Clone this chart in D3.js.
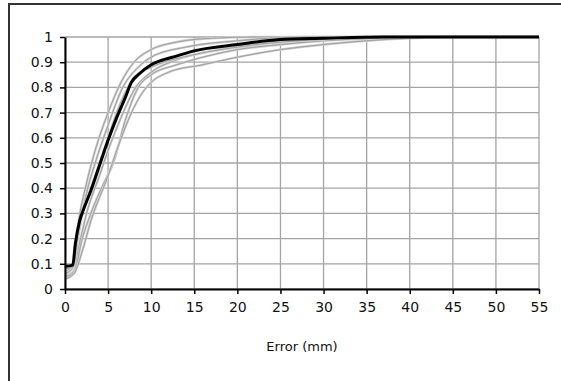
<!DOCTYPE html>
<html>
<head>
<meta charset="utf-8">
<script src="https://cdn.jsdelivr.net/npm/d3@7"></script>
<style>
  body { margin: 0; background: #fff; }
  svg text { font-family: "DejaVu Sans", Verdana, sans-serif; fill: #111; }
</style>
</head>
<body>
<div id="chart"></div>
<script>
// x ticks (Error, mm) and y ticks (cumulative fraction)
var xTicks = [0, 5, 10, 15, 20, 25, 30, 35, 40, 45, 50, 55];
var yTicks = [0, 0.1, 0.2, 0.3, 0.4, 0.5, 0.6, 0.7, 0.8, 0.9, 1];
var xLabel = "Error (mm)";

// mean curve (black)
var meanX = [0, 0.9, 1.2, 1.7, 2.2, 3, 4, 5, 6, 7, 7.7, 8.5, 10, 11, 13, 15, 20, 25, 30, 37, 55];
var meanY = [0.09, 0.095, 0.18, 0.27, 0.32, 0.39, 0.49, 0.59, 0.68, 0.76, 0.82, 0.85, 0.89, 0.905, 0.925, 0.945, 0.97, 0.99, 0.995, 1, 1];

// individual curves (grey)
var g1X = [0, 1, 1.5, 2.5, 3.5, 5, 6.5, 8, 10, 13, 17, 22, 55];
var g1Y = [0.07, 0.1, 0.25, 0.42, 0.55, 0.70, 0.82, 0.90, 0.95, 0.98, 0.995, 1, 1];
var g2X = [0, 1, 1.5, 2.5, 3.5, 5, 6.7, 8.5, 10, 14, 20, 28, 55];
var g2Y = [0.06, 0.09, 0.2, 0.38, 0.5, 0.65, 0.8, 0.88, 0.92, 0.96, 0.985, 1, 1];
var g3X = [0, 1, 1.5, 2.5, 4, 5, 6.5, 8.2, 10, 13, 18, 25, 32, 38, 55];
var g3Y = [0.05, 0.07, 0.15, 0.3, 0.45, 0.55, 0.68, 0.8, 0.86, 0.91, 0.95, 0.98, 0.995, 1, 1];
var g4X = [0, 1, 2, 3, 4.5, 5.6, 7, 8.5, 10, 13, 16, 20, 25, 30, 40, 42, 55];
var g4Y = [0.04, 0.06, 0.2, 0.3, 0.42, 0.5, 0.67, 0.8, 0.85, 0.89, 0.92, 0.95, 0.97, 0.985, 0.998, 1, 1];
var g5X = [0, 1, 2, 3, 5, 6, 8, 9, 10, 12, 16, 20, 25, 30, 35, 40, 45, 55];
var g5Y = [0.05, 0.06, 0.15, 0.27, 0.45, 0.55, 0.72, 0.78, 0.82, 0.86, 0.89, 0.92, 0.95, 0.97, 0.985, 0.995, 1, 1];
var g6X = [0, 1, 1.5, 2, 3, 4, 5, 6, 7, 8, 10, 15, 20, 25, 30, 36, 55];
var g6Y = [0.08, 0.09, 0.22, 0.3, 0.4, 0.5, 0.6, 0.7, 0.78, 0.84, 0.88, 0.93, 0.96, 0.98, 0.99, 1, 1];

var greyX = [g1X, g2X, g3X, g4X, g5X, g6X];
var greyY = [g1Y, g2Y, g3Y, g4Y, g5Y, g6Y];

function pairs(xs, ys) {
  return xs.map(function (v, i) { return [v, ys[i]]; });
}

var W = 561, H = 381;
var margin = {top: 37, right: 22, bottom: 92, left: 65},
    width = W - margin.left - margin.right,
    height = H - margin.top - margin.bottom;

var root = d3.select("#chart").append("svg")
    .attr("width", W)
    .attr("height", H);

// outer frame (only top and left edges show in the picture)
root.append("rect")
    .attr("x", 9).attr("y", 4)
    .attr("width", 620).attr("height", 500)
    .attr("fill", "none")
    .attr("stroke", "#333")
    .attr("stroke-width", 2);

var svg = root.append("g")
    .attr("transform", "translate(" + margin.left + "," + margin.top + ")");

var x = d3.scaleLinear().domain([0, 55]).range([0, width]);
var y = d3.scaleLinear().domain([0, 1]).range([height, 0]);

// grid
svg.append("g").selectAll("line.h")
  .data(yTicks).enter().append("line")
    .attr("x1", 0).attr("x2", width)
    .attr("y1", function (d) { return y(d); })
    .attr("y2", function (d) { return y(d); })
    .attr("stroke", "#a4a4a4").attr("stroke-width", 1.3);
svg.append("g").selectAll("line.v")
  .data(xTicks).enter().append("line")
    .attr("y1", 0).attr("y2", height)
    .attr("x1", function (d) { return x(d); })
    .attr("x2", function (d) { return x(d); })
    .attr("stroke", "#a4a4a4").attr("stroke-width", 1.3);

var line = d3.line()
    .x(function (d) { return x(d[0]); })
    .y(function (d) { return y(d[1]); })
    .curve(d3.curveMonotoneX);

// grey curves
for (var i = 0; i < greyX.length; i++) {
  svg.append("path")
      .datum(pairs(greyX[i], greyY[i]))
      .attr("d", line)
      .attr("fill", "none")
      .attr("stroke", "#cfcfcf")
      .attr("stroke-width", 2.4);
  svg.append("path")
      .datum(pairs(greyX[i], greyY[i]))
      .attr("d", line)
      .attr("fill", "none")
      .attr("stroke", "#999")
      .attr("stroke-width", 0.9);
}

// mean curve
svg.append("path")
    .datum(pairs(meanX, meanY))
    .attr("d", line)
    .attr("fill", "none")
    .attr("stroke", "#000")
    .attr("stroke-width", 3);

// axes
var xAxis = svg.append("g")
    .attr("transform", "translate(0," + height + ")")
    .call(d3.axisBottom(x).tickValues(xTicks).tickSize(5).tickPadding(8).tickSizeOuter(0));
var yAxis = svg.append("g")
    .call(d3.axisLeft(y).tickValues(yTicks).tickSize(5).tickPadding(7).tickSizeOuter(0)
      .tickFormat(function (d) { return d3.format("")(d); }));

[xAxis, yAxis].forEach(function (a) {
  a.select(".domain").attr("stroke", "#000").attr("stroke-width", 2);
  a.selectAll(".tick line").attr("stroke", "#000").attr("stroke-width", 1.5);
  a.selectAll(".tick text").style("font-size", "14px").attr("fill", "#111");
});

svg.append("text")
    .attr("x", width / 2)
    .attr("y", height + 62)
    .attr("text-anchor", "middle")
    .style("font-size", "13px")
    .text(xLabel);
</script>
</body>
</html>
